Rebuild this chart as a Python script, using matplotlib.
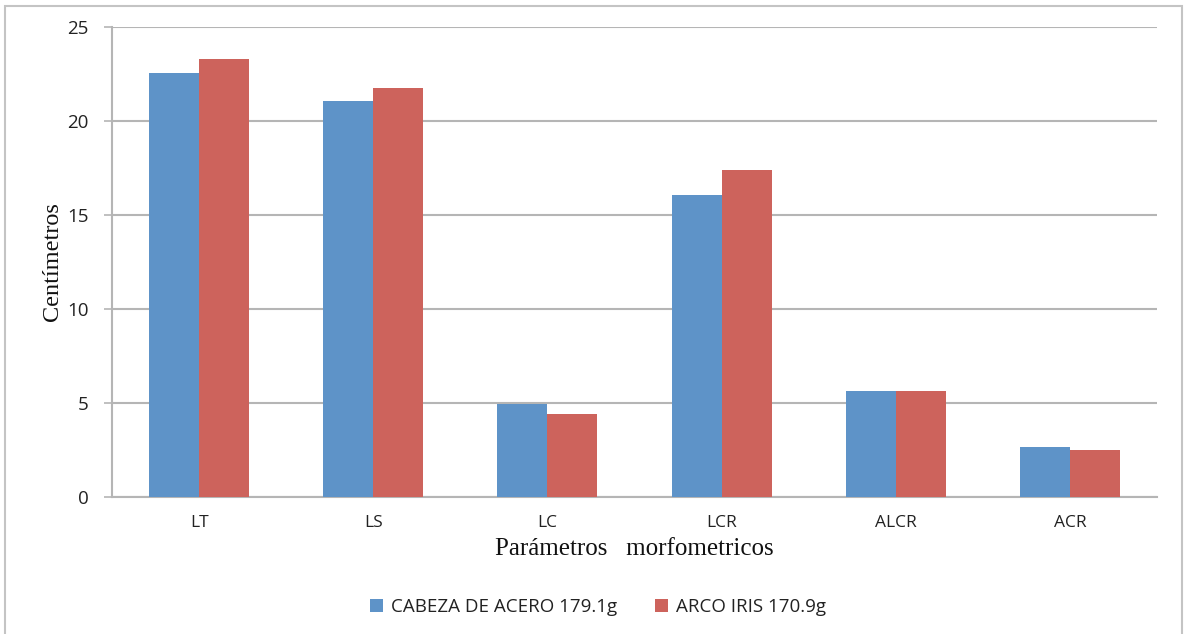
import numpy as np
import matplotlib
matplotlib.use("Agg")
import matplotlib.pyplot as plt
from matplotlib.patches import Rectangle

# Morphometric parameters (cm) for two strains
categories = ["LT", "LS", "LC", "LCR", "ALCR", "ACR"]
cabeza_acero = [22.55, 21.06, 4.95, 16.06, 5.62, 2.68]
arco_iris = [23.32, 21.76, 4.40, 17.39, 5.62, 2.50]
series_labels = ["CABEZA DE ACERO 179.1g", "ARCO IRIS 170.9g"]
yticks = [0, 5, 10, 15, 20, 25]

blue = "#5E93C8"
red = "#CD635C"
grid_c = "#B5B5B5"

W, H = 1189, 634
fig = plt.figure(figsize=(W / 100, H / 100), dpi=100)
fig.patch.set_facecolor("white")

# outer chart frame
fig.patches.append(Rectangle((5 / W, -0.05), (1182 - 5) / W, 1 - 6 / H + 0.05,
                             transform=fig.transFigure, fill=False,
                             edgecolor="#C4C4C4", linewidth=1.5))

ax = fig.add_axes([112 / W, 1 - 497 / H, (1157 - 112) / W, (497 - 27) / H])

x = np.arange(len(categories))
bw = 0.287
ax.bar(x - bw / 2, cabeza_acero, bw, color=blue, label=series_labels[0], zorder=3)
ax.bar(x + bw / 2, arco_iris, bw, color=red, label=series_labels[1], zorder=3)

ax.set_xlim(-0.5, len(categories) - 0.5)
ax.set_ylim(0, 25)
ax.set_yticks(yticks)
ax.yaxis.grid(True, color=grid_c, linewidth=1.5, zorder=0)
ax.set_axisbelow(True)

for s in ["top", "right"]:
    ax.spines[s].set_visible(False)
ax.spines["left"].set_color(grid_c)
ax.spines["left"].set_linewidth(1.5)
ax.spines["bottom"].set_color(grid_c)
ax.spines["bottom"].set_linewidth(1.5)

ax.set_xticks(x)
ax.set_xticklabels(categories, family="Open Sans", fontsize=12.5, color="#222222")
ax.tick_params(axis="x", length=0, pad=13)
ax.tick_params(axis="y", length=6, width=1.2, color=grid_c, pad=11,
               labelsize=13.5, labelcolor="#222222")
for lab in ax.get_yticklabels():
    lab.set_family("Open Sans")

ax.set_ylabel("Centímetros", family="Liberation Serif", fontsize=17.5,
              color="#111111", labelpad=3)
ax.set_xlabel("Parámetros   morfometricos", family="Liberation Serif",
              fontsize=18, color="#111111", labelpad=5)

leg = fig.legend(loc="center", bbox_to_anchor=(598 / W, 1 - 607 / H), ncol=2,
                 frameon=False, prop={"family": "Open Sans", "size": 13.5},
                 handlelength=0.7, handleheight=0.7, handletextpad=0.45,
                 columnspacing=2.0)
for t in leg.get_texts():
    t.set_color("#222222")

fig.savefig("out.png", dpi=100, facecolor="white")
